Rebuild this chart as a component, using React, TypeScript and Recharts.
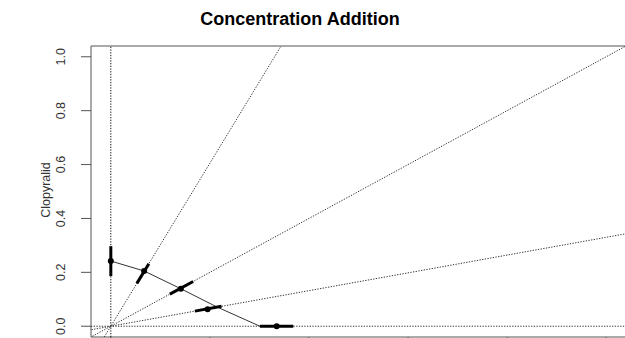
import React from "react";
import {
  ComposedChart,
  Line,
  Scatter,
  XAxis,
  YAxis,
  ReferenceLine,
  ReferenceArea,
} from "recharts";

// Tick values / labels
const xTicks = [0, 1, 2, 3, 4, 5];
const yTicks = [0, 0.2, 0.4, 0.6, 0.8, 1.0];
const yTickLabels = ["0.0", "0.2", "0.4", "0.6", "0.8", "1.0"];

// Observed mixture points
const obsX = [0, 0.336, 0.707, 0.977, 1.674];
const obsY = [0.242, 0.205, 0.139, 0.063, 0];

// Confidence segments for each point (low / high ends)
const ciLowX = [0, 0.263, 0.596, 0.848, 1.505];
const ciLowY = [0.186, 0.159, 0.119, 0.056, 0];
const ciHighX = [0, 0.384, 0.831, 1.118, 1.842];
const ciHighY = [0.297, 0.232, 0.166, 0.074, 0];

// Concentration-addition isobole
const isoX = [0, 0.336, 0.707, 1.068, 1.505];
const isoY = [0.242, 0.205, 0.139, 0.072, 0];

// Mixture rays through the origin (slopes)
const raySlopes = [0.605, 0.2, 0.066];
const rayXRange = [-1, 10];

const obsData = obsX.map((x, i) => ({ x, y: obsY[i] }));
const isoData = isoX.map((x, i) => ({ x, y: isoY[i] }));

const FONT = "'Liberation Sans', Arial, sans-serif";
const DOT = "1.3 1.4";
const RAY = "#333";

const YTick = (props: any) => {
  const { y, payload, index } = props;
  const idx = yTicks.indexOf(payload.value);
  const label = idx >= 0 ? yTickLabels[idx] : String(payload.value);
  return (
    <text
      key={index}
      transform={`translate(61,${y}) rotate(-90)`}
      textAnchor="middle"
      dy="0.35em"
      fontFamily={FONT}
      fontSize={12.5}
      fill="#333"
    >
      {label}
    </text>
  );
};

const NoTick = () => <g />;

const Dot = (props: any) => (
  <circle cx={props.cx} cy={props.cy} r={3} fill="#000" />
);

export default function App() {
  return (
    <div
      style={{
        position: "absolute",
        left: 0,
        top: 0,
        width: 625,
        height: 338,
        overflow: "hidden",
        background: "#fff",
      }}
    >
      <ComposedChart
        width={627}
        height={338}
        data={isoData}
        margin={{ top: 46, right: 1, bottom: 0, left: 41 }}
      >
        <XAxis
          type="number"
          dataKey="x"
          domain={[-0.2, 5.2]}
          ticks={xTicks}
          allowDataOverflow
          height={1}
          tickSize={7}
          axisLine={false}
          tickLine={{ stroke: "#555" }}
          tick={<NoTick />}
        />
        <YAxis
          type="number"
          dataKey="y"
          domain={[-0.04, 1.04]}
          ticks={yTicks}
          allowDataOverflow
          width={50}
          tickSize={10}
          axisLine={false}
          tickLine={{ stroke: "#555" }}
          tick={<YTick />}
        />
        <ReferenceArea
          x1={-0.2}
          x2={5.2}
          y1={-0.04}
          y2={1.04}
          fill="none"
          stroke="#555"
          strokeWidth={1}
          ifOverflow="visible"
        />
        <ReferenceLine x={0} stroke="#111" strokeDasharray={DOT} />
        <ReferenceLine y={0} stroke={RAY} strokeDasharray={DOT} />
        {raySlopes.map((s, i) => (
          <ReferenceLine
            key={"ray" + i}
            segment={[
              { x: rayXRange[0], y: rayXRange[0] * s },
              { x: rayXRange[1], y: rayXRange[1] * s },
            ]}
            stroke={RAY}
            strokeDasharray={DOT}
            ifOverflow="hidden"
          />
        ))}
        <Line
          data={isoData}
          dataKey="y"
          type="linear"
          stroke="#333"
          strokeWidth={1}
          dot={false}
          activeDot={false}
          isAnimationActive={false}
        />
        {ciLowX.map((x, i) => (
          <ReferenceLine
            key={"ci" + i}
            segment={[
              { x, y: ciLowY[i] },
              { x: ciHighX[i], y: ciHighY[i] },
            ]}
            stroke="#000"
            strokeWidth={3}
            ifOverflow="visible"
          />
        ))}
        <Scatter
          data={obsData}
          dataKey="y"
          shape={<Dot />}
          isAnimationActive={false}
        />
      </ComposedChart>
      <svg
        width={625}
        height={338}
        style={{ position: "absolute", left: 0, top: 0, pointerEvents: "none" }}
      >
        <text
          x={300}
          y={25}
          textAnchor="middle"
          fontFamily={FONT}
          fontWeight="bold"
          fontSize={18}
          fill="#000"
        >
          Concentration Addition
        </text>
        <text
          transform="translate(46,190) rotate(-90)"
          textAnchor="middle"
          dy="0.35em"
          fontFamily={FONT}
          fontSize={12.5}
          fill="#333"
        >
          Clopyralid
        </text>
      </svg>
    </div>
  );
}
